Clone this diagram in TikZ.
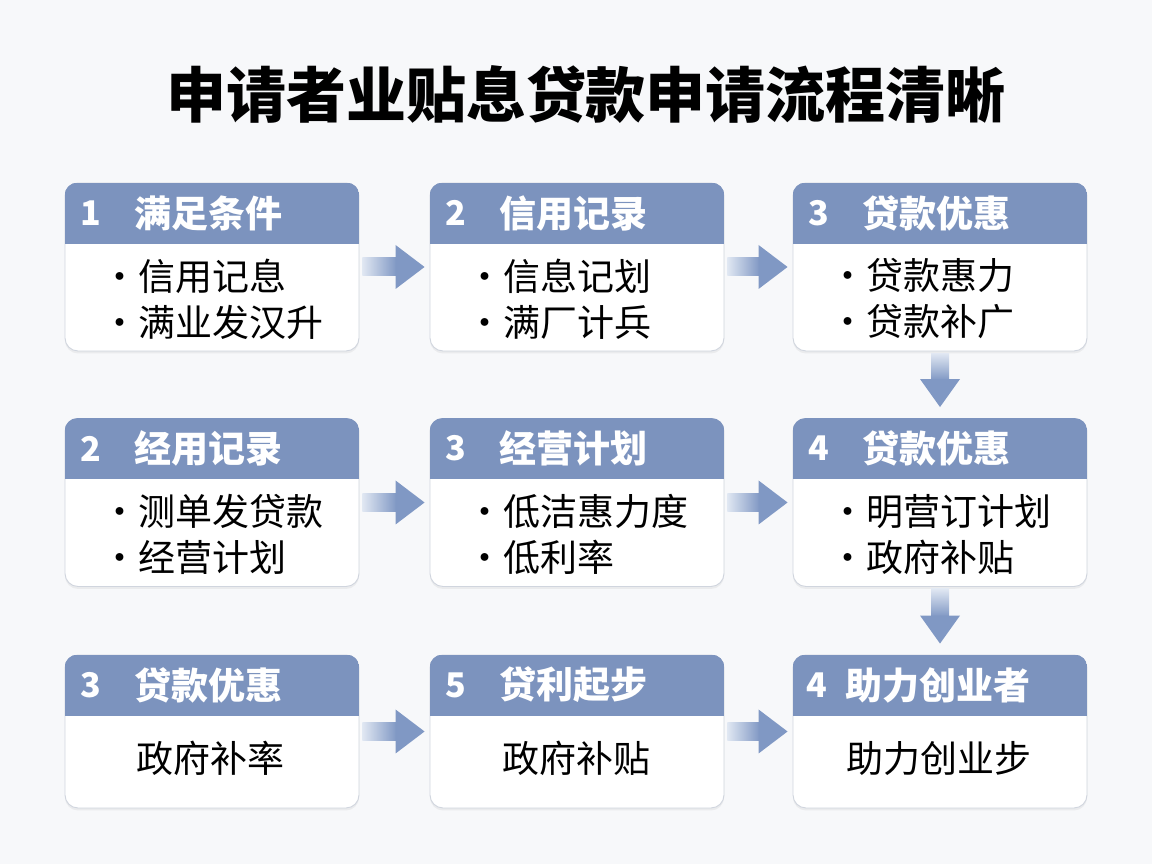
\documentclass[tikz,border=0pt]{standalone}
\usepackage{fontspec}
\setmainfont{Noto Sans CJK SC}
\usetikzlibrary{positioning,calc,shadows}

\begin{document}
\begin{tikzpicture}[x=1pt,y=1pt]
	\definecolor{bgpage}{RGB}{247,248,250}
	\definecolor{hdrblue}{RGB}{124,147,190}
	\definecolor{arrblue}{RGB}{128,152,196}
	\definecolor{arrlight}{RGB}{224,231,242}
	\definecolor{cardline}{RGB}{208,213,222}
	\tikzset{
		card/.style={
			rectangle, rounded corners=13pt, draw=cardline, line width=0.9pt,
			fill=white, minimum width=294pt, minimum height=168pt, inner sep=0pt,
			drop shadow={shadow xshift=0pt, shadow yshift=-2.5pt, opacity=0.10}
		},
		lowcard/.style={card, minimum height=153pt},
		stepnum/.style={
			font=\fontsize{34}{40}\selectfont\bfseries, text=white, inner sep=0pt
		},
		steptitle/.style={
			font=\fontsize{37}{44}\selectfont\bfseries, text=white,
			anchor=west, inner sep=0pt
		},
		bullets/.style={
			font=\fontsize{37}{46}\selectfont, align=left, anchor=west, inner sep=0pt
		},
		plain/.style={font=\fontsize{37}{44}\selectfont, inner sep=0pt}
	}

	\fill[bgpage] (0,0) rectangle (1152,864);
	\useasboundingbox (0,0) rectangle (1152,864);

	% ======= Tiêu đề =======
	\node[font=\fontsize{60}{66}\selectfont\bfseries, inner sep=0pt] (ttl) at (586,769) {申请者业贴息贷款申请流程清晰};

	% ======= Các thẻ =======
	\node[card] (b1) at (212,597) {};
	\node[card] (b2) at (577,597) {};
	\node[card] (b3) at (940,597) {};
	\node[card] (b4) at (212,361.5) {};
	\node[card] (b5) at (577,361.5) {};
	\node[card] (b6) at (940,361.5) {};
	\node[lowcard] (b7) at (212,132.5) {};
	\node[lowcard] (b8) at (577,132.5) {};
	\node[lowcard] (b9) at (940,132.5) {};

	\foreach \b in {b1,b2,b3,b4,b5,b6,b7,b8,b9}{
		\begin{scope}
			\clip[rounded corners=13pt] (\b.south west) rectangle (\b.north east);
			\fill[hdrblue] (\b.north west) rectangle ($(\b.north east)+(0,-61)$);
		\end{scope}
	}

	% ======= Hàng 1 =======
	\node[stepnum] (n1) at ($(b1.north west)+(26,-30.5)$) {1};
	\node[steptitle] (h1) at ($(b1.north west)+(70,-30.5)$) {满足条件};
	\node[bullets] (t1) at ($(b1.west)+(37,-32)$) {\textbullet{}信用记息\\\textbullet{}满业发汉升};

	\node[stepnum] (n2) at ($(b2.north west)+(26,-30.5)$) {2};
	\node[steptitle] (h2) at ($(b2.north west)+(70,-30.5)$) {信用记录};
	\node[bullets] (t2) at ($(b2.west)+(37,-32)$) {\textbullet{}信息记划\\\textbullet{}满厂计兵};

	\node[stepnum] (n3) at ($(b3.north west)+(26,-30.5)$) {3};
	\node[steptitle] (h3) at ($(b3.north west)+(70,-30.5)$) {贷款优惠};
	\node[bullets] (t3) at ($(b3.west)+(37,-32)$) {\textbullet{}贷款惠力\\\textbullet{}贷款补广};

	% ======= Hàng 2 =======
	\node[stepnum] (n4) at ($(b4.north west)+(26,-30.5)$) {2};
	\node[steptitle] (h4) at ($(b4.north west)+(70,-30.5)$) {经用记录};
	\node[bullets] (t4) at ($(b4.west)+(37,-32)$) {\textbullet{}测单发贷款\\\textbullet{}经营计划};

	\node[stepnum] (n5) at ($(b5.north west)+(26,-30.5)$) {3};
	\node[steptitle] (h5) at ($(b5.north west)+(70,-30.5)$) {经营计划};
	\node[bullets] (t5) at ($(b5.west)+(37,-32)$) {\textbullet{}低洁惠力度\\\textbullet{}低利率};

	\node[stepnum] (n6) at ($(b6.north west)+(26,-30.5)$) {4};
	\node[steptitle] (h6) at ($(b6.north west)+(70,-30.5)$) {贷款优惠};
	\node[bullets] (t6) at ($(b6.west)+(37,-32)$) {\textbullet{}明营订计划\\\textbullet{}政府补贴};

	% ======= Hàng 3 =======
	\node[stepnum] (n7) at ($(b7.north west)+(26,-30.5)$) {3};
	\node[steptitle] (h7) at ($(b7.north west)+(70,-30.5)$) {贷款优惠};
	\node[plain] (t7) at ($(b7.center)+(-2,-27)$) {政府补率};

	\node[stepnum] (n8) at ($(b8.north west)+(26,-30.5)$) {5};
	\node[steptitle] (h8) at ($(b8.north west)+(70,-30.5)$) {贷利起步};
	\node[plain] (t8) at ($(b8.center)+(-1,-27)$) {政府补贴};

	\node[stepnum] (n9) at ($(b9.north west)+(24,-30.5)$) {4};
	\node[steptitle] (h9) at ($(b9.north west)+(53,-30.5)$) {助力创业者};
	\node[plain] (t9) at ($(b9.center)+(-1,-27)$) {助力创业步};

	% ======= Mũi tên =======
	\foreach \a/\b in {b1/b2,b2/b3,b4/b5,b5/b6,b7/b8,b8/b9}{
		\shade[left color=arrlight, right color=arrblue] ($(\a.east)+(3,-9)$) rectangle ($(\b.west)+(-33,9)$);
		\fill[arrblue] ($(\b.west)+(-34,22)$) -- ($(\b.west)+(-5,0)$) -- ($(\b.west)+(-34,-22)$) -- cycle;
	}
	\foreach \a/\b in {b3/b6,b6/b9}{
		\shade[top color=arrlight, bottom color=arrblue] ($(\a.south)+(-9,-2)$) rectangle ($(\b.north)+(9,38)$);
		\fill[arrblue] ($(\b.north)+(-20,39)$) -- ($(\b.north)+(0,11)$) -- ($(\b.north)+(20,39)$) -- cycle;
	}
\end{tikzpicture}
\end{document}
